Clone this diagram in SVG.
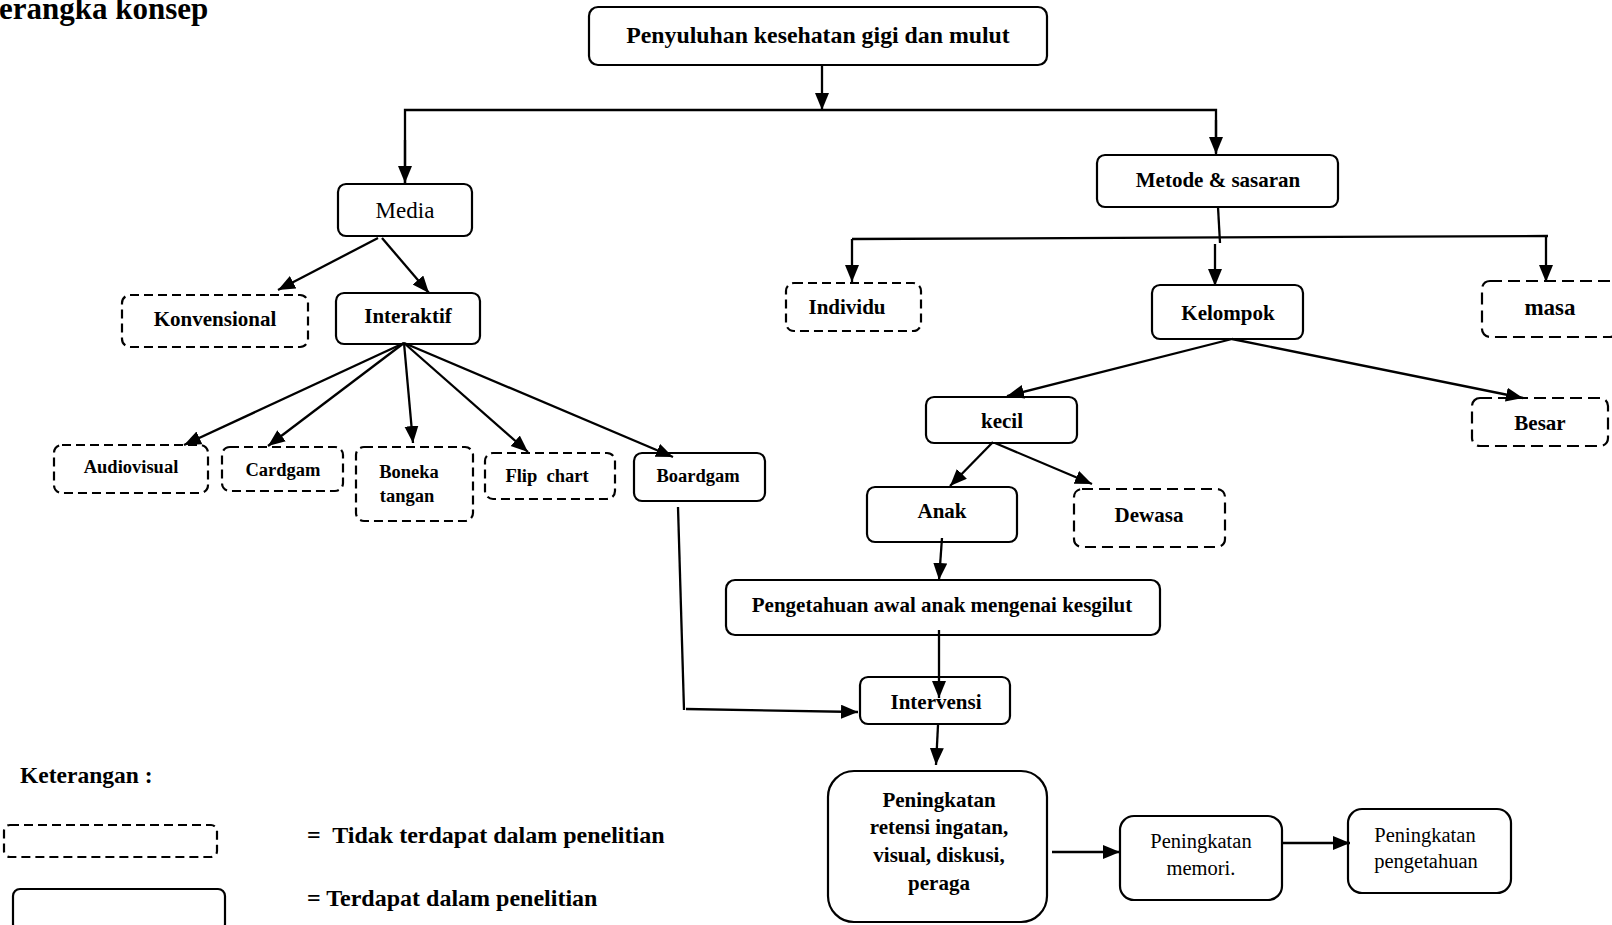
<svg xmlns="http://www.w3.org/2000/svg" width="1612" height="925" viewBox="0 0 1612 925">
<style>
.b{fill:#fff;stroke:#000;stroke-width:2.2}
.d{fill:#fff;stroke:#000;stroke-width:2.2;stroke-dasharray:9 5}
.t{font-family:"Liberation Serif","Times New Roman",serif;font-weight:bold;font-size:21px;fill:#000;text-anchor:middle}
.r{font-family:"Liberation Serif","Times New Roman",serif;font-size:20.5px;fill:#000;text-anchor:middle}
.s{font-size:18.5px}
.c line,.c polyline{stroke:#000;stroke-width:2.3;fill:none}
.a{marker-end:url(#ah)}
</style>
<defs>
<marker id="ah" markerUnits="userSpaceOnUse" markerWidth="18" markerHeight="15" refX="17" refY="7" orient="auto">
<path d="M0,0 L17,7 L0,14 z" fill="#000"/>
</marker>
</defs>
<rect width="1612" height="925" fill="#fff"/>
<text x="-1" y="19" class="t" style="text-anchor:start;font-size:31px">erangka konsep</text>

<g id="n-top"><rect class="b" x="589" y="7" width="458" height="58" rx="9"/><text class="t" x="818" y="43" style="font-size:23.8px">Penyuluhan kesehatan gigi dan mulut</text></g>
<g id="n-media"><rect class="b" x="338" y="184" width="134" height="52" rx="8"/><text class="r" x="405" y="218" style="font-size:23px">Media</text></g>
<g id="n-konvensional"><rect class="d" x="122" y="295" width="186" height="52" rx="8"/><text class="t" x="215" y="326">Konvensional</text></g>
<g id="n-interaktif"><rect class="b" x="336" y="293" width="144" height="51" rx="8"/><text class="t" x="408" y="323">Interaktif</text></g>
<g id="n-audiovisual"><rect class="d" x="54" y="445" width="154" height="48" rx="8"/><text class="t s" x="131" y="473">Audiovisual</text></g>
<g id="n-cardgam"><rect class="d" x="222" y="447" width="121" height="44" rx="8"/><text class="t s" x="283" y="476">Cardgam</text></g>
<g id="n-boneka"><rect class="d" x="356" y="447" width="117" height="74" rx="8"/><text class="t s" x="409" y="478">Boneka</text><text class="t s" x="407" y="502">tangan</text></g>
<g id="n-flip"><rect class="d" x="485" y="453" width="130" height="46" rx="8"/><text class="t s" x="547" y="482" xml:space="preserve">Flip  chart</text></g>
<g id="n-boardgam"><rect class="b" x="634" y="453" width="131" height="48" rx="8"/><text class="t s" x="698" y="482">Boardgam</text></g>
<g id="n-metode"><rect class="b" x="1097" y="155" width="241" height="52" rx="8"/><text class="t" x="1218" y="187">Metode &amp; sasaran</text></g>
<g id="n-individu"><rect class="d" x="786" y="283" width="135" height="48" rx="8"/><text class="t" x="847" y="314">Individu</text></g>
<g id="n-kelompok"><rect class="b" x="1152" y="285" width="151" height="54" rx="8"/><text class="t" x="1228" y="320">Kelompok</text></g>
<g id="n-masa"><rect class="d" x="1482" y="281" width="136" height="56" rx="8" style="stroke-dasharray:12 6"/><text class="t" x="1550" y="315" style="font-size:23px">masa</text></g>
<g id="n-kecil"><rect class="b" x="926" y="397" width="151" height="46" rx="8"/><text class="t" x="1002" y="428">kecil</text></g>
<g id="n-besar"><rect class="d" x="1472" y="398" width="136" height="48" rx="8" style="stroke-dasharray:12 6"/><text class="t" x="1540" y="430">Besar</text></g>
<g id="n-anak"><rect class="b" x="867" y="487" width="150" height="55" rx="8"/><text class="t" x="942" y="518">Anak</text></g>
<g id="n-dewasa"><rect class="d" x="1074" y="489" width="151" height="58" rx="8" style="stroke-dasharray:11 6"/><text class="t" x="1149" y="522">Dewasa</text></g>
<g id="n-pengetahuan-awal"><rect class="b" x="726" y="580" width="434" height="55" rx="9"/><text class="t" x="942" y="612">Pengetahuan awal anak mengenai kesgilut</text></g>
<g id="n-intervensi"><rect class="b" x="860" y="677" width="150" height="47" rx="8"/><text class="t" x="936" y="709">Intervensi</text></g>
<g id="n-retensi"><rect class="b" x="828" y="771" width="219" height="151" rx="26"/><text class="t" x="939" y="807">Peningkatan</text><text class="t" x="939" y="834">retensi ingatan,</text><text class="t" x="939" y="862">visual, diskusi,</text><text class="t" x="939" y="890">peraga</text></g>
<g id="n-memori"><rect class="b" x="1120" y="816" width="162" height="84" rx="14"/><text class="r" x="1201" y="848">Peningkatan</text><text class="r" x="1201" y="875">memori.</text></g>
<g id="n-pengetahuan"><rect class="b" x="1348" y="809" width="163" height="84" rx="14"/><text class="r" x="1425" y="842">Peningkatan</text><text class="r" x="1426" y="868">pengetahuan</text></g>

<g class="c" id="connectors">
<line class="a" x1="822" y1="66" x2="822" y2="110"/>
<polyline points="405,183 405,110 1216,110 1216,153" />
<line class="a" x1="405" y1="140" x2="405" y2="183"/>
<line class="a" x1="1216" y1="120" x2="1216" y2="154"/>
<line class="a" x1="378" y1="238" x2="278" y2="290"/>
<line class="a" x1="382" y1="238" x2="429" y2="293"/>
<line class="a" x1="404" y1="343" x2="184" y2="445"/>
<line class="a" x1="404" y1="343" x2="268" y2="446"/>
<line class="a" x1="404" y1="343" x2="413" y2="443"/>
<line class="a" x1="404" y1="343" x2="528" y2="452"/>
<line class="a" x1="404" y1="343" x2="673" y2="457"/>
<line x1="678" y1="507" x2="684" y2="710"/>
<line class="a" x1="686" y1="709" x2="858" y2="712"/>
<line x1="1218" y1="207" x2="1220" y2="243"/>
<line x1="852" y1="239" x2="1548" y2="236"/>
<line class="a" x1="852" y1="239" x2="852" y2="282"/>
<line class="a" x1="1215" y1="244" x2="1215" y2="286"/>
<line class="a" x1="1546" y1="236" x2="1546" y2="282"/>
<line class="a" x1="1232" y1="339" x2="1007" y2="396"/>
<line class="a" x1="1232" y1="339" x2="1523" y2="398"/>
<line class="a" x1="993" y1="442" x2="950" y2="486"/>
<line class="a" x1="995" y1="443" x2="1092" y2="484"/>
<line class="a" x1="942" y1="538" x2="939" y2="580"/>
<line class="a" x1="939" y1="630" x2="939" y2="698"/>
<line class="a" x1="938" y1="725" x2="936" y2="765"/>
<line class="a" x1="1052" y1="852" x2="1120" y2="852"/>
<line class="a" x1="1282" y1="843" x2="1350" y2="843"/>
</g>

<g id="legend">
<text class="t" x="20" y="783" style="text-anchor:start;font-size:23.5px">Keterangan :</text>
<rect class="d" x="4" y="825" width="213" height="32" rx="6"/>
<rect class="b" x="13" y="889" width="212" height="42" rx="7"/>
<text class="t" x="307" y="843" style="text-anchor:start;font-size:24px" xml:space="preserve">=  Tidak terdapat dalam penelitian</text>
<text class="t" x="307" y="906" style="text-anchor:start;font-size:24px">= Terdapat dalam penelitian</text>
</g>
</svg>
